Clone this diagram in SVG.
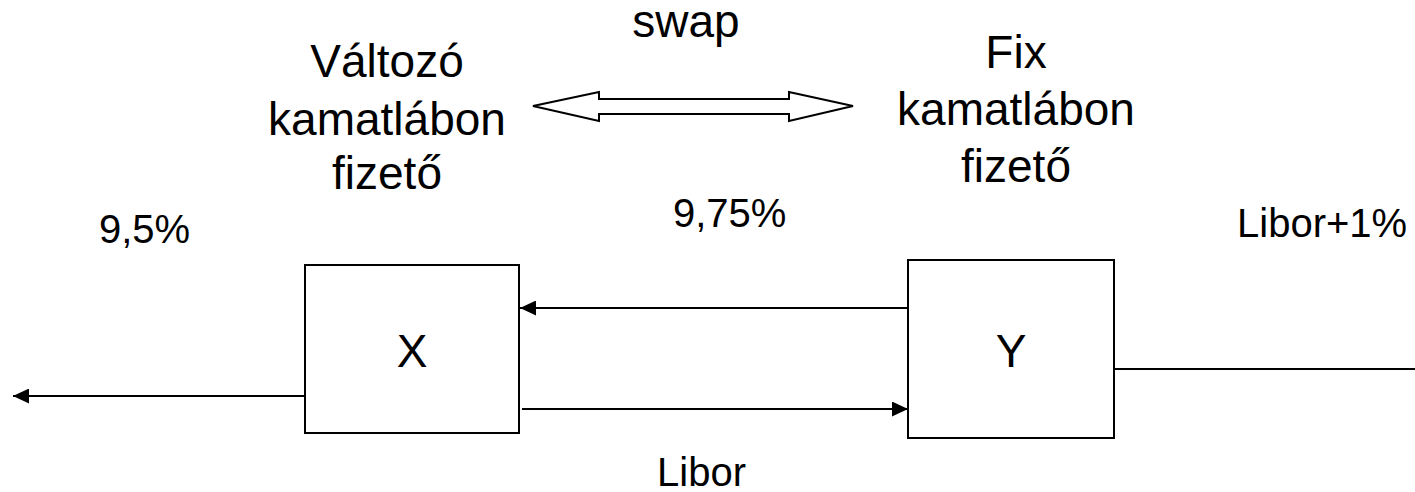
<svg xmlns="http://www.w3.org/2000/svg" width="1415" height="492" viewBox="0 0 1415 492">
<style>
  .t { font-family: "Liberation Sans", Arial, sans-serif; fill: #000; }
  .big { font-size: 46px; }
  .sm { font-size: 40px; }
  .box { fill: #fff; stroke: #000; stroke-width: 2; }
  .ln { fill: none; stroke: #000; stroke-width: 2; }
</style>
<defs>
  <marker id="ah" markerWidth="16" markerHeight="15" refX="16" refY="7.5" orient="auto" markerUnits="userSpaceOnUse">
    <path d="M0,0 L16,7.5 L0,15 Z" fill="#000"/>
  </marker>
</defs>
<rect width="1415" height="492" fill="#fff"/>
<g id="labels">
  <text class="t big" x="686" y="37" text-anchor="middle">swap</text>
  <text class="t big" x="387" y="77" text-anchor="middle">Változó</text>
  <text class="t big" x="387" y="135" text-anchor="middle">kamatlábon</text>
  <text class="t big" x="387" y="189" text-anchor="middle">fizető</text>
  <text class="t big" x="1016" y="68" text-anchor="middle">Fix</text>
  <text class="t big" x="1016" y="125" text-anchor="middle">kamatlábon</text>
  <text class="t big" x="1016" y="182" text-anchor="middle">fizető</text>
  <text class="t sm" x="99" y="243">9,5%</text>
  <text class="t sm" x="673" y="227">9,75%</text>
  <text class="t sm" x="1237" y="237">Libor+1%</text>
  <text class="t sm" x="657" y="486">Libor</text>
</g>
<g id="swap-arrow">
  <polygon class="box" points="533,106 599,92 599,99 789,99 789,92 853,106 789,121 789,114 599,114 599,121"/>
</g>
<g id="node-X">
  <rect class="box" x="305" y="265" width="214" height="168"/>
  <text class="t big" x="412" y="367" text-anchor="middle">X</text>
</g>
<g id="node-Y">
  <rect class="box" x="908" y="260" width="206" height="178"/>
  <text class="t big" x="1011" y="367" text-anchor="middle">Y</text>
</g>
<g id="connectors">
  <line class="ln" x1="305" y1="396" x2="13" y2="396" marker-end="url(#ah)"/>
  <line class="ln" x1="908" y1="308" x2="520" y2="308" marker-end="url(#ah)"/>
  <line class="ln" x1="522" y1="409" x2="908" y2="409" marker-end="url(#ah)"/>
  <line class="ln" x1="1114" y1="369" x2="1415" y2="369"/>
</g>
</svg>
